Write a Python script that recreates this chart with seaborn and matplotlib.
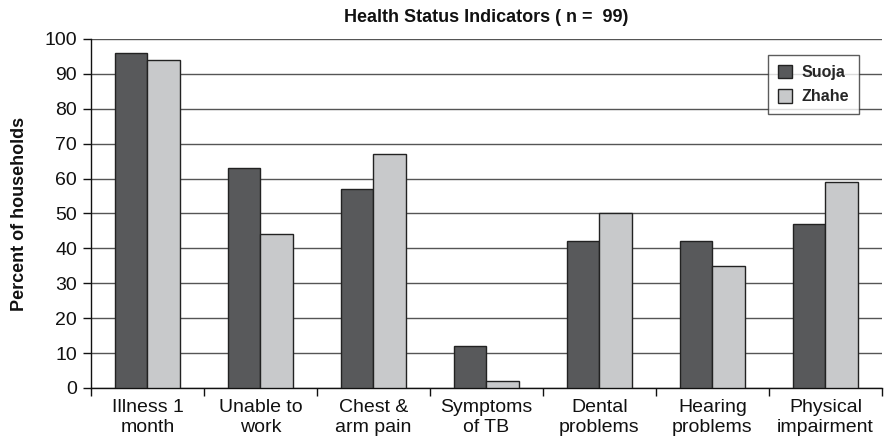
import matplotlib
matplotlib.use("Agg")
import matplotlib.pyplot as plt
import seaborn as sns
import pandas as pd
import numpy as np

categories = ["Illness 1\nmonth", "Unable to\nwork", "Chest &\narm pain", "Symptoms\nof TB",
              "Dental\nproblems", "Hearing\nproblems", "Physical\nimpairment"]
suoja = [96, 63, 57, 12, 42, 42, 47]
zhahe = [94, 44, 67, 2, 50, 35, 59]
series_names = ["Suoja", "Zhahe"]
colors = ["#58595b", "#c8c9cb"]

df = pd.DataFrame({
    "category": categories * 2,
    "value": suoja + zhahe,
    "series": [series_names[0]] * len(categories) + [series_names[1]] * len(categories),
})

sns.set_style("white")
plt.rcParams['font.family'] = ['Liberation Sans Narrow', 'Liberation Sans', 'DejaVu Sans']

fig = plt.figure(figsize=(8.85, 4.47), dpi=100)
ax = fig.add_axes([0.1028, 0.132, 0.8938, 0.7808])

sns.barplot(data=df, x="category", y="value", hue="series", palette=colors,
            width=0.58, gap=0, edgecolor="#222222", linewidth=1.0, ax=ax, zorder=3,
            legend=True)

ax.set_ylim(0, 100)
ax.set_xlim(-0.5, len(categories) - 0.5)
ax.set_yticks(np.arange(0, 101, 10))
ax.yaxis.grid(True, color="#555555", linewidth=1.0, zorder=0)
ax.set_axisbelow(True)
for s in ["top", "right"]:
    ax.spines[s].set_visible(False)
ax.spines["left"].set_color("#111111")
ax.spines["bottom"].set_color("#111111")
ax.spines["left"].set_linewidth(1.0)
ax.spines["bottom"].set_linewidth(1.0)

# category labels on minor ticks at centers, major ticks at boundaries
ax.set_xticks(np.arange(-0.5, len(categories), 1.0))
ax.set_xticklabels([])
ax.set_xticks(np.arange(len(categories)), minor=True)
ax.set_xticklabels(categories, minor=True, fontsize=14, color="#111111")
ax.tick_params(axis="x", which="major", direction="out", length=6, width=1, color="#111111", bottom=True)
ax.tick_params(axis="x", which="minor", length=0, pad=8)
ax.tick_params(axis="y", direction="out", length=6, width=1, color="#111111", left=True,
               labelsize=14, labelcolor="#111111", pad=4)

ax.set_xlabel("")
ax.set_ylabel("Percent of households", fontsize=13, fontweight="bold", color="#111111", labelpad=12)
ax.set_title("Health Status Indicators ( n =  99)", fontsize=13, fontweight="bold", color="#111111", pad=12)

leg = ax.legend(loc="upper right", bbox_to_anchor=(0.971, 0.954), borderaxespad=0, frameon=True,
                fancybox=False, edgecolor="#333333", fontsize=11.5, handlelength=0.9, handleheight=0.9,
                borderpad=0.6, labelspacing=0.6, handletextpad=0.6)
leg.get_frame().set_linewidth(1.0)
for t in leg.get_texts():
    t.set_fontweight("bold")

fig.savefig("out.png", dpi=100)
